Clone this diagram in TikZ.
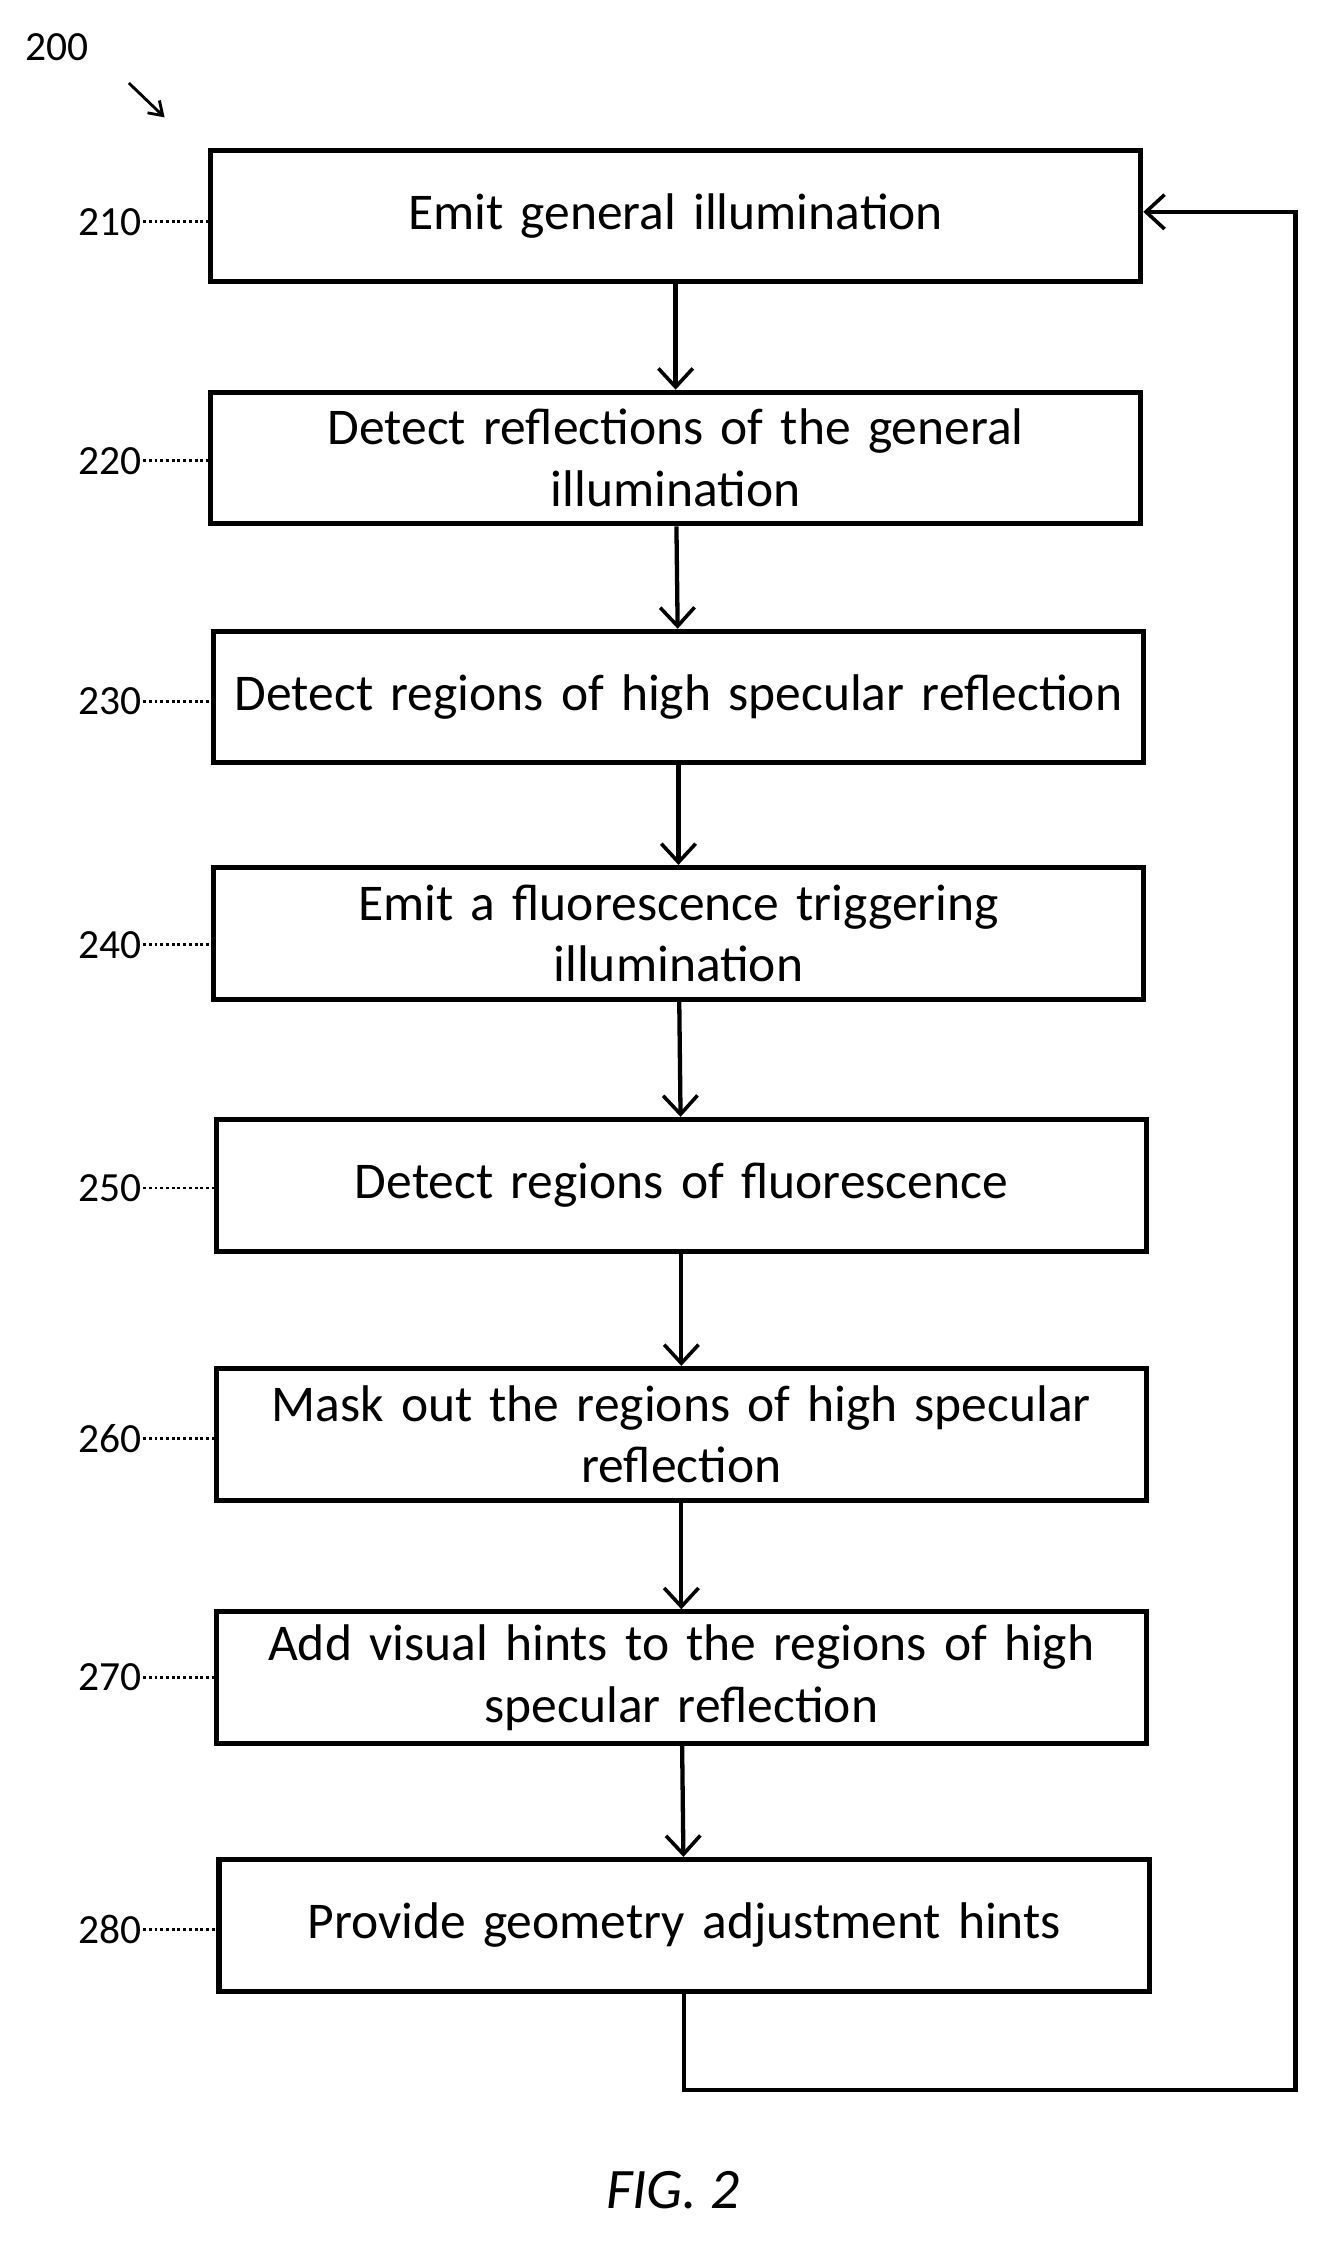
\documentclass[tikz,border=0pt]{standalone}
\usepackage{fontspec}
\setmainfont{Carlito}
\usetikzlibrary{arrows.meta,positioning}
\tikzset{
  stepbox/.style={draw,line width=3.5pt,minimum width=650pt,minimum height=92pt,align=center,
    text width=640pt,inner sep=2pt,font=\fontsize{36}{43}\selectfont},
  flow/.style={line width=3pt,-{Straight Barb[length=13pt,width=24pt,line width=2.5pt]}},
  ref/.style={font=\fontsize{29}{34}\selectfont},
  lead/.style={line width=2pt,dotted}
}
\begin{document}
\begin{tikzpicture}[x=1pt,y=-1pt]
  \useasboundingbox (0,0) rectangle (920,1574);
  % steps
  \node[stepbox] (s210) at (472,151) {Emit general illumination};
  \node[stepbox] (s220) at (472,320) {Detect reflections of the general\\illumination};
  \node[stepbox] (s230) at (474,487) {Detect regions of high specular reflection};
  \node[stepbox] (s240) at (474,652) {Emit a fluorescence triggering\\illumination};
  \node[stepbox] (s250) at (476,828) {Detect regions of fluorescence};
  \node[stepbox] (s260) at (476,1002) {Mask out the regions of high specular\\reflection};
  \node[stepbox] (s270) at (476,1172) {Add visual hints to the regions of high\\specular reflection};
  \node[stepbox] (s280) at (478,1345) {Provide geometry adjustment hints};
  % connectors
  \draw[flow] (s210) -- (s220);
  \draw[flow] (s220) -- (s230);
  \draw[flow] (s230) -- (s240);
  \draw[flow] (s240) -- (s250);
  \draw[flow] (s250) -- (s260);
  \draw[flow] (s260) -- (s270);
  \draw[flow] (s270) -- (s280);
  \coordinate (c1) at (s280.south |- 0,1460);
  \coordinate (c2) at (905,1460);
  \coordinate (c3) at (905,148);
  \draw[flow] (s280.south) -- (c1) -- (c2) -- (c3) -- (s210.east |- c3);
  % reference numerals
  \foreach \n/\y in {210/155,220/322,230/490,240/660,250/830,260/1005,270/1172,280/1348}{
    \node[ref,anchor=east,inner sep=1pt] (r\n) at (100,\y) {\n};
    \draw[lead] (r\n.east) -- (s\n.west |- r\n.east);
  }
  \node[ref] (r200) at (40,33) {200};
  \coordinate (a1) at (90,58);
  \coordinate (a2) at (115,82);
  \draw[line width=2pt,-{Straight Barb[length=9pt,width=12pt]}] (a1) -- (a2);
  \node[font=\fontsize{40}{46}\selectfont\itshape] (fig) at (470,1530) {FIG. 2};
\end{tikzpicture}
\end{document}
